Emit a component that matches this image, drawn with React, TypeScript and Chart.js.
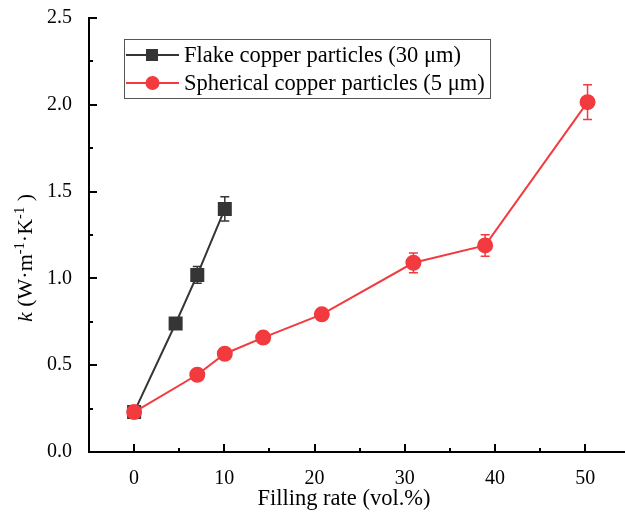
import React, { useEffect, useRef } from "react";
import { Chart, registerables } from "chart.js";

Chart.register(...registerables);

const flakeX = [0, 4.6, 7.0, 10.05];
const flakeY = [0.23, 0.74, 1.02, 1.40];
const flakeErr = [0.02, 0.02, 0.048, 0.07];

const sphX = [0, 7.0, 10.05, 14.3, 20.8, 30.95, 38.9, 50.25];
const sphY = [0.23, 0.445, 0.566, 0.659, 0.793, 1.09, 1.19, 2.015];
const sphErr = [0.02, 0.015, 0.02, 0.02, 0.03, 0.057, 0.062, 0.1];

const xMajorTicks = [0, 10, 20, 30, 40, 50];
const xMinorTicks = [5, 15, 25, 35, 45];
const yMajorTicks = [0, 0.5, 1.0, 1.5, 2.0, 2.5];
const yMinorTicks = [0.25, 0.75, 1.25, 1.75, 2.25];

const seriesNames = ["Flake copper particles (30 \u03bcm)", "Spherical copper particles (5 \u03bcm)"];
const xTitle = "Filling rate (vol.%)";

const FONT = "'Liberation Serif', 'Times New Roman', serif";
const DARK = "#353535";
const RED = "#f23a3f";

const errs = [flakeErr, sphErr];

const customPlugin = {
  id: "custom",
  beforeDatasetsDraw(chart: any) {
    const ctx = chart.ctx;
    const xs = chart.scales.x;
    const ys = chart.scales.y;
    const ca = chart.chartArea;
    ctx.save();
    ctx.strokeStyle = "#000";
    ctx.lineWidth = 2;
    const drawX = (v: number, len: number) => {
      const px = Math.round(xs.getPixelForValue(v));
      ctx.beginPath();
      ctx.moveTo(px, ca.bottom);
      ctx.lineTo(px, ca.bottom - len);
      ctx.stroke();
    };
    const drawY = (v: number, len: number) => {
      const py = Math.round(ys.getPixelForValue(v));
      ctx.beginPath();
      ctx.moveTo(ca.left, py);
      ctx.lineTo(ca.left + len, py);
      ctx.stroke();
    };
    xMajorTicks.forEach((v) => drawX(v, 8));
    xMinorTicks.forEach((v) => drawX(v, 4));
    yMajorTicks.forEach((v) => drawY(v, 8));
    yMinorTicks.forEach((v) => drawY(v, 4));

    // error bars
    chart.data.datasets.forEach((ds: any) => {
      const err = errs[ds.errIndex];
      ctx.strokeStyle = ds.borderColor;
      ctx.lineWidth = 1.5;
      ds.data.forEach((p: any, i: number) => {
        const px = xs.getPixelForValue(p.x);
        const top = ys.getPixelForValue(p.y + err[i]);
        const bot = ys.getPixelForValue(p.y - err[i]);
        ctx.beginPath();
        ctx.moveTo(px, top);
        ctx.lineTo(px, bot);
        ctx.moveTo(px - 4.5, top);
        ctx.lineTo(px + 4.5, top);
        ctx.moveTo(px - 4.5, bot);
        ctx.lineTo(px + 4.5, bot);
        ctx.stroke();
      });
    });
    ctx.restore();
  },
  afterDraw(chart: any) {
    const ctx = chart.ctx;
    ctx.save();
    // x title
    ctx.fillStyle = "#000";
    ctx.font = `22.5px ${FONT}`;
    ctx.textAlign = "center";
    ctx.textBaseline = "alphabetic";
    ctx.fillText(xTitle, 344, 505);

    // y title (rotated)
    ctx.translate(32, 322);
    ctx.rotate(-Math.PI / 2);
    ctx.textAlign = "left";
    let x = 0;
    const piece = (t: string, font: string, dy: number) => {
      ctx.font = font;
      ctx.fillText(t, x, dy);
      x += ctx.measureText(t).width;
    };
    const big = `22px ${FONT}`;
    const small = `14.5px ${FONT}`;
    piece("k", `italic 22px ${FONT}`, 0);
    piece(" (W\u00b7m", big, 0);
    piece("-1", small, -8);
    piece("\u00b7K", big, 0);
    piece("-1", small, -8);
    piece(" )", big, 0);
    ctx.restore();

    // legend
    ctx.save();
    ctx.strokeStyle = "#555";
    ctx.lineWidth = 1;
    ctx.strokeRect(124.5, 39.5, 366, 59);
    const rows = [55, 83];
    rows.forEach((cy, i) => {
      const col = i === 0 ? DARK : RED;
      ctx.strokeStyle = col;
      ctx.lineWidth = 2;
      ctx.beginPath();
      ctx.moveTo(126, cy);
      ctx.lineTo(179, cy);
      ctx.stroke();
      ctx.fillStyle = col;
      if (i === 0) {
        ctx.fillRect(146, cy - 6, 12, 12);
      } else {
        ctx.beginPath();
        ctx.arc(152.5, cy, 7, 0, Math.PI * 2);
        ctx.fill();
      }
      ctx.fillStyle = "#000";
      ctx.font = `22.5px ${FONT}`;
      ctx.textAlign = "left";
      ctx.textBaseline = "middle";
      ctx.fillText(seriesNames[i], 184, cy + 1);
    });
    ctx.restore();
  },
};

export default function App() {
  const ref = useRef<HTMLCanvasElement>(null);
  useEffect(() => {
    const chart = new Chart(ref.current as HTMLCanvasElement, {
      type: "line",
      data: {
        datasets: [
          {
            label: seriesNames[1],
            data: sphX.map((x, i) => ({ x, y: sphY[i] })),
            borderColor: RED,
            backgroundColor: RED,
            pointBackgroundColor: RED,
            pointBorderColor: RED,
            pointStyle: "circle",
            pointRadius: 7,
            borderWidth: 2,
            order: 0,
            errIndex: 1,
          } as any,
          {
            label: seriesNames[0],
            data: flakeX.map((x, i) => ({ x, y: flakeY[i] })),
            borderColor: DARK,
            backgroundColor: DARK,
            pointBackgroundColor: DARK,
            pointBorderColor: DARK,
            pointStyle: "rect",
            pointRadius: 8.5,
            borderWidth: 2,
            order: 1,
            errIndex: 0,
          } as any,
        ],
      },
      options: {
        animation: false,
        responsive: false,
        devicePixelRatio: 1,
        layout: { autoPadding: false, padding: { left: 0, top: 18, right: 0, bottom: 0 } },
        plugins: { legend: { display: false }, tooltip: { enabled: false } },
        scales: {
          x: {
            type: "linear",
            min: -5,
            max: 54.4,
            grid: { display: false },
            border: { display: true, color: "#000", width: 2 },
            ticks: { font: { family: FONT, size: 20 }, color: "#000", padding: 7, maxRotation: 0 },
            afterBuildTicks: (s: any) => {
              s.ticks = xMajorTicks.map((v) => ({ value: v }));
            },
            afterFit: (s: any) => {
              s.height = 64;
              s.paddingLeft = 0;
              s.paddingRight = 0;
            },
          },
          y: {
            type: "linear",
            min: 0,
            max: 2.5,
            grid: { display: false },
            border: { display: true, color: "#000", width: 2 },
            ticks: {
              font: { family: FONT, size: 20 },
              color: "#000",
              padding: 9,
              callback: (v: any) => Number(v).toFixed(1),
            },
            afterBuildTicks: (s: any) => {
              s.ticks = yMajorTicks.map((v) => ({ value: v }));
            },
            afterFit: (s: any) => {
              s.width = 89;
              s.paddingTop = 0;
              s.paddingBottom = 0;
            },
          },
        },
      },
      plugins: [customPlugin],
    });
    return () => chart.destroy();
  }, []);
  return (
    <div style={{ position: "absolute", left: 0, top: 0, width: 625, height: 516, background: "#fff" }}>
      <canvas ref={ref} width={625} height={516} style={{ width: 625, height: 516, display: "block" }} />
    </div>
  );
}
